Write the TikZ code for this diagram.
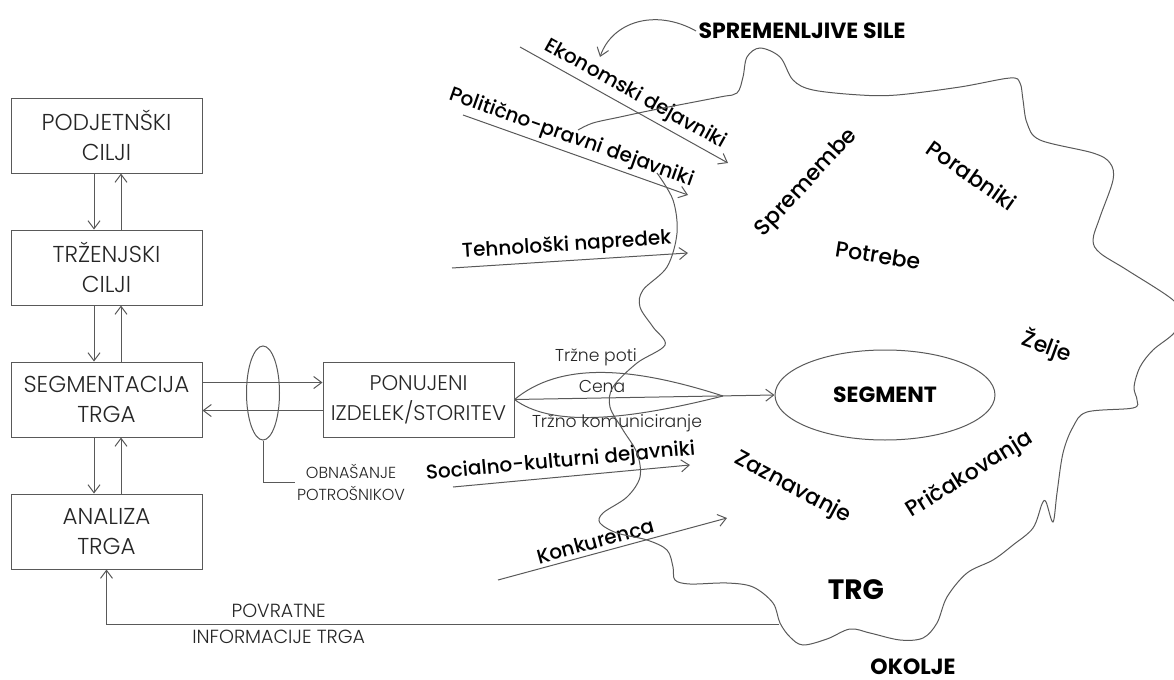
\documentclass[tikz,border=0pt]{standalone}
\usepackage{fontspec}
\setmainfont{Poppins}
\IfFontExistsTF{Poppins Light}{\newfontfamily\tanko{Poppins Light}}{\newfontfamily\tanko{Poppins}}
\IfFontExistsTF{Poppins Medium}{\newfontfamily\srednje{Poppins Medium}}{\newfontfamily\srednje{Poppins}}
\usetikzlibrary{positioning,shapes.geometric,arrows.meta}

\begin{document}
\begin{tikzpicture}[x=0.5pt,y=-0.5pt,node distance=66pt,line width=0.5pt,
  >={Straight Barb[length=4pt,width=6pt]}]

\useasboundingbox (0,0) rectangle (1174,680);

%styles
\tikzstyle{ciljbox} = [draw=black!65,rectangle, text centered, align=center, minimum width=95.5pt, minimum height=37.5pt, inner sep=0pt, text=black!85, font=\tanko\fontsize{11.5}{15}\selectfont]
\tikzstyle{puscica} = [draw=black!65, ->]
\tikzstyle{kanal} = [text=black!85, inner sep=1pt, font=\tanko\fontsize{8.6}{10}\selectfont]
\tikzstyle{dejavnik} = [text=black, inner sep=2pt, font=\srednje\fontsize{10}{12}\selectfont]
\tikzstyle{beseda} = [text=black, inner sep=0pt, font=\srednje\fontsize{11}{13}\selectfont]
\tikzstyle{naslov} = [text=black, inner sep=1pt, font=\bfseries\fontsize{11}{13}\selectfont]

%left column
\node (podjetje) [ciljbox] at (106.5,135.5) {PODJETNŠKI\\CILJI};
\node (trzenje) [ciljbox, below of=podjetje] {TRŽENJSKI\\CILJI};
\node (segmentacija) [ciljbox, below of=trzenje] {SEGMENTACIJA\\TRGA};
\node (analiza) [ciljbox, below of=segmentacija] {ANALIZA\\TRGA};
\node (ponujeni) [ciljbox, right of=segmentacija, xshift=90pt, font=\tanko\fontsize{10.6}{15}\selectfont] {PONUJENI\\IZDELEK/STORITEV};

\draw[puscica] ([xshift=-6.25pt]podjetje.south) -- ([xshift=-6.25pt]trzenje.north);
\draw[puscica] ([xshift=7.25pt]trzenje.north) -- ([xshift=7.25pt]podjetje.south);
\draw[puscica] ([xshift=-6.25pt]trzenje.south) -- ([xshift=-6.25pt]segmentacija.north);
\draw[puscica] ([xshift=7.25pt]segmentacija.north) -- ([xshift=7.25pt]trzenje.south);
\draw[puscica] ([xshift=-6.25pt]segmentacija.south) -- ([xshift=-6.25pt]analiza.north);
\draw[puscica] ([xshift=7.25pt]analiza.north) -- ([xshift=7.25pt]segmentacija.south);

\draw[puscica] ([yshift=8.5pt]segmentacija.east) -- ([yshift=8.5pt]ponujeni.west);
\draw[puscica] ([yshift=-5.5pt]ponujeni.west) -- ([yshift=-5.5pt]segmentacija.east);

%consumer behaviour
\node (vedenje) [ellipse, draw=black!65, minimum width=16.5pt, minimum height=47pt, inner sep=0pt] at (263,393) {};
\node (obnasanje) [kanal, align=center, font=\tanko\fontsize{8}{11}\selectfont] at (351,482) {OBNAŠANJE\\POTROŠNIKOV};
\draw[draw=black!65] (vedenje.south) |- (obnasanje.west);

%segment
\node (segment) [ellipse, draw=black!65, minimum width=110pt, minimum height=45pt, naslov] at (885,395) {SEGMENT};

\coordinate (stik) at (723,396);
\draw[draw=black!65] (ponujeni.east) .. controls (560,362) and (630,366) .. (stik);
\draw[draw=black!65] (ponujeni.east) .. controls (550,426) and (620,422) .. (stik);
\draw[puscica] (ponujeni.east) -- (segment.west);
\node (poti) [kanal] at (596,357) {Tržne poti};
\node (cena) [kanal] at (602,386) {Cena};
\node (komuniciranje) [kanal] at (617,423) {Tržno komuniciranje};

%environment forces
\node (sile) [naslov] at (802,31) {SPREMENLJIVE SILE};
\coordinate (ekocilj) at (600,57);
\draw[puscica] (sile.west) .. controls (655,8) and (612,22) .. (ekocilj);

\coordinate (eko1) at (520,47);
\coordinate (eko2) at (728,163);
\draw[puscica] (eko1) -- node (ekonomski) [dejavnik, pos=0.52, sloped, above] {Ekonomski dejavniki} (eko2);
\coordinate (pol1) at (463,115);
\coordinate (pol2) at (688,195);
\draw[puscica] (pol1) -- node (politicni) [dejavnik, pos=0.46, sloped, above] {Politično-pravni dejavniki} (pol2);
\coordinate (teh1) at (452,268);
\coordinate (teh2) at (688,253);
\draw[puscica] (teh1) -- node (tehnoloski) [dejavnik, pos=0.49, sloped, above] {Tehnološki napredek} (teh2);
\coordinate (soc1) at (453,487);
\coordinate (soc2) at (690,465);
\draw[puscica] (soc1) -- node (socialni) [dejavnik, pos=0.46, sloped, above] {Socialno-kulturni dejavniki} (soc2);
\coordinate (kon1) at (498,580);
\coordinate (kon2) at (727,518);
\draw[puscica] (kon1) -- node (konkurenca) [dejavnik, pos=0.44, sloped, above] {Konkurenca} (kon2);

%market outline
\draw[draw=black!65] plot[smooth, tension=0.55] coordinates {
  (657,173) (673,200) (677,233) (667,267) (643,290) (640,307) (653,327)
  (665,345) (637,363) (613,387) (610,407) (623,430) (637,453) (640,477)
  (627,497) (603,513) (600,523) (617,533) (647,540) (667,550) (673,567)
  (675,580) (690,584) (727,583) (753,587) (773,603) (780,623) (790,637)
  (803,645) (827,639) (850,629) (870,633) (900,640) (923,638) (937,623)
  (947,597) (967,573) (993,560) (1013,545) (1033,528) (1042,504)
  (1046,502) (1053,522) (1057,493) (1063,453) (1073,427) (1087,412)
  (1133,408) (1137,400) (1134,387) (1140,367) (1153,350) (1174,333)
  (1180,316) (1173,300) (1127,270) (1100,253) (1093,240) (1100,217)
  (1113,180) (1110,163) (1093,153) (1040,140) (1027,123) (1023,100)
  (1020,83) (1010,78) (960,87) (897,95) (860,95) (813,90) (793,80)
  (780,57) (760,48) (747,57) (743,77) (737,93) (720,97) (653,110)
  (620,117) (593,123) (578,130)};

\node (spremembe) [beseda, rotate=47] at (807,183) {Spremembe};
\node (porabniki) [beseda, rotate=-35] at (972,175) {Porabniki};
\node (potrebe) [beseda, rotate=-9] at (878,255) {Potrebe};
\node (zelje) [beseda, rotate=-20] at (1047,347) {Želje};
\node (pricakovanja) [beseda, rotate=32] at (970,475) {Pričakovanja};
\node (zaznavanje) [beseda, rotate=-28] at (793,488) {Zaznavanje};
\node (trg) [naslov, font=\bfseries\fontsize{14}{16}\selectfont] at (856,590) {TRG};
\node (okolje) [naslov] at (913,667) {OKOLJE};

%feedback
\coordinate (povratek) at (779,624);
\draw[puscica] (povratek) -| node (povratne) [pos=0.372, above, kanal, inner sep=3pt, font=\tanko\fontsize{9.5}{11}\selectfont] {POVRATNE}
  node (informacije) [pos=0.372, below, kanal, inner sep=3pt, font=\tanko\fontsize{9.5}{11}\selectfont] {INFORMACIJE TRGA} (analiza.south);

\end{tikzpicture}
\end{document}
